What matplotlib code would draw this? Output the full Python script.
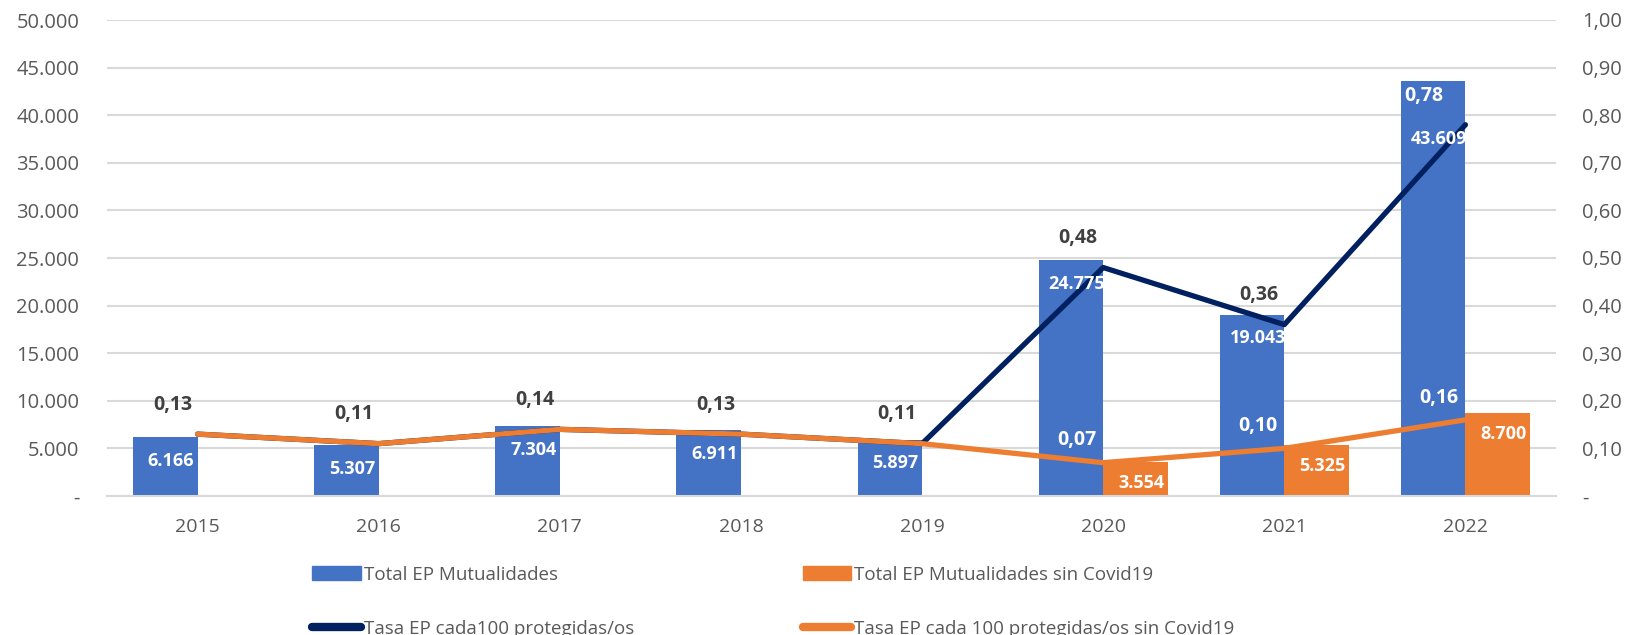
import numpy as np
import matplotlib.pyplot as plt
from matplotlib.ticker import FuncFormatter, MultipleLocator
from matplotlib.patches import Patch
from matplotlib.lines import Line2D

plt.rcParams['font.family'] = ['Open Sans', 'DejaVu Sans']

# ---- data ----
years = ['2015', '2016', '2017', '2018', '2019', '2020', '2021', '2022']
total_ep = [6166, 5307, 7304, 6911, 5897, 24775, 19043, 43609]
total_ep_sin_covid = [None, None, None, None, None, 3554, 5325, 8700]
tasa = [0.13, 0.11, 0.14, 0.13, 0.11, 0.48, 0.36, 0.78]
tasa_sin_covid = [0.13, 0.11, 0.14, 0.13, 0.11, 0.07, 0.10, 0.16]

BLUE = '#4472C4'
ORANGE = '#ED7D31'
NAVY = '#002060'
GRID = '#D9D9D9'
TXT = '#595959'
DARK = '#404040'

def thousands(v, pos=None):
    if v == 0:
        return '-'
    return f"{v:,.0f}".replace(',', '.')

def decimal(v, pos=None):
    if abs(v) < 1e-9:
        return '-'
    return f"{v:.2f}".replace('.', ',')

fig = plt.figure(figsize=(16.31, 6.35), dpi=100)
ax = fig.add_axes([107 / 1631, 139 / 635, 1449 / 1631, 476 / 635])
ax2 = ax.twinx()

x = np.arange(len(years))
w = 0.356
last = len(years) - 1

# bars
b1 = ax.bar(x - w / 2, total_ep, width=w, color=BLUE, zorder=2)
ox = [xi + w / 2 for xi, v in zip(x, total_ep_sin_covid) if v is not None]
ov = [v for v in total_ep_sin_covid if v is not None]
b2 = ax.bar(ox, ov, width=w, color=ORANGE, zorder=2)

# lines
ax2.plot(x, tasa, color=NAVY, lw=3.8, solid_joinstyle='round', solid_capstyle='round', zorder=3)
ax2.plot(x, tasa_sin_covid, color=ORANGE, lw=3.8, solid_joinstyle='round', solid_capstyle='round', zorder=4)

# bar labels go on ax2 so they sit above the lines
for i, (rect, v) in enumerate(zip(b1, total_ep)):
    dy = -42 if i == last else -17   # last label pushed down below the rate label
    ax2.annotate(thousands(v), (rect.get_x() + rect.get_width() / 2, rect.get_height()),
                 xycoords=ax.transData, xytext=(4, dy), textcoords='offset points',
                 ha='center', va='center', color='white', fontsize=13, fontweight='bold', zorder=6)
for rect, v in zip(b2, ov):
    ax2.annotate(thousands(v), (rect.get_x() + rect.get_width() / 2, rect.get_height()),
                 xycoords=ax.transData, xytext=(4, -15), textcoords='offset points',
                 ha='center', va='center', color='white', fontsize=13, fontweight='bold', zorder=6)

for i, v in enumerate(tasa):
    col = 'white' if i == last else DARK
    dx = -30 if i == last else -18
    ax2.annotate(decimal(v), (x[i], v), xytext=(dx, 21), textcoords='offset points',
                 ha='center', va='center', color=col, fontsize=14, fontweight='bold', zorder=6)
for i in range(5, len(tasa_sin_covid)):
    v = tasa_sin_covid[i]
    ax2.annotate(decimal(v), (x[i], v), xytext=(-19, 16), textcoords='offset points',
                 ha='center', va='center', color='white', fontsize=14, fontweight='bold', zorder=6)

# axes
ax.set_xlim(-0.5, len(years) - 0.5)
ax.set_ylim(0, 50000)
ax2.set_ylim(0, 1.0)
ax.yaxis.set_major_locator(MultipleLocator(5000))
ax2.yaxis.set_major_locator(MultipleLocator(0.1))
ax.yaxis.set_major_formatter(FuncFormatter(thousands))
ax2.yaxis.set_major_formatter(FuncFormatter(decimal))
ax.set_xticks(x)
ax.set_xticklabels(years)

ax.grid(axis='y', color=GRID, lw=1.5, zorder=0)
ax.set_axisbelow(True)
for a in (ax, ax2):
    for s in a.spines.values():
        s.set_visible(False)
    a.tick_params(length=0, colors=TXT, labelsize=14.5)
ax.tick_params(axis='y', pad=20)
ax2.tick_params(axis='y', pad=19)
ax.tick_params(axis='x', pad=16, labelsize=14)
ax.spines['bottom'].set_visible(True)
ax.spines['bottom'].set_color(GRID)
ax.spines['bottom'].set_linewidth(1.5)

handles = [
    Patch(color=BLUE, label='Total EP Mutualidades'),
    Line2D([], [], color=NAVY, lw=6, solid_capstyle='round', label='Tasa EP cada100 protegidas/os'),
    Patch(color=ORANGE, label='Total EP Mutualidades sin Covid19'),
    Line2D([], [], color=ORANGE, lw=6, solid_capstyle='round', label='Tasa EP cada 100 protegidas/os sin Covid19'),
]
fig.legend(handles=handles, ncol=2, loc='upper left', bbox_to_anchor=(312 / 1631, 0.109),
           frameon=False, fontsize=13.5, labelcolor=TXT, handlelength=2.6, handleheight=0.75,
           handletextpad=0.15, columnspacing=9.0, labelspacing=1.94, borderpad=0, borderaxespad=0)

fig.savefig('out.png', dpi=100)
